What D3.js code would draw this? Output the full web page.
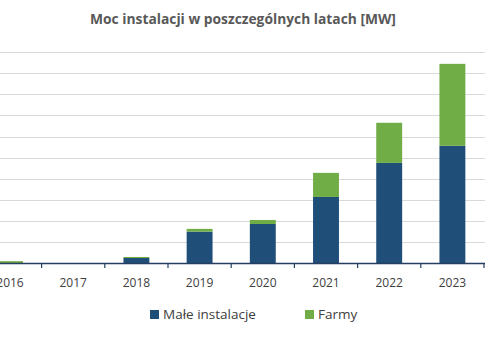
<!DOCTYPE html>
<html><head><meta charset="utf-8">
<script src="https://cdn.jsdelivr.net/npm/d3@7"></script>
<style>body{margin:0;background:#fff;}svg{display:block;}</style>
</head><body>
<script>
const years = ["2016","2017","2018","2019","2020","2021","2022","2023"];
const maleInstalacje = [0, 0, 0.25, 1.5, 1.86, 3.14, 4.75, 5.56];
const farmy = [0.1, 0, 0.05, 0.13, 0.19, 1.14, 1.9, 3.88];
const seriesNames = ["Małe instalacje", "Farmy"];
const colors = ["#1F4E79", "#70AD47"];
const yTicks = [0,1,2,3,4,5,6,7,8,9,10];

const W = 485, H = 351;
const svg = d3.select("body").append("svg").attr("width", W).attr("height", H);
svg.append("rect").attr("width", W).attr("height", H).attr("fill", "#fff");

const x = d3.scaleBand().domain(years).range([-21.6, 484]).paddingInner(0.59).paddingOuter(0.295);
const y = d3.scaleLinear().domain([0, 10]).range([263.3, 52]);

// gridlines
svg.append("g").selectAll("line").data(yTicks.slice(1)).join("line")
  .attr("x1", 0).attr("x2", W).attr("y1", d => Math.round(y(d)) + 0.5).attr("y2", d => Math.round(y(d)) + 0.5)
  .attr("stroke", "#D9D9D9").attr("stroke-width", 1);

const table = years.map((yr, i) => ({year: yr, "Małe instalacje": maleInstalacje[i], "Farmy": farmy[i]}));
const stacked = d3.stack().keys(seriesNames)(table);

svg.append("g").selectAll("g").data(stacked).join("g")
  .attr("fill", (d, i) => colors[i])
  .selectAll("rect").data(d => d).join("rect")
  .attr("x", d => x(d.data.year))
  .attr("width", x.bandwidth())
  .attr("y", d => y(d[1]))
  .attr("height", d => Math.max(0, y(d[0]) - y(d[1])));

// axis
const step = x.step();
const axisG = svg.append("g");
axisG.append("line").attr("x1", 0).attr("x2", W).attr("y1", 263.5).attr("y2", 263.5)
  .attr("stroke", "#243F60").attr("stroke-width", 1.5);
axisG.selectAll("line.tick").data(years.slice(1)).join("line").attr("class", "tick")
  .attr("x1", d => x(d) + x.bandwidth()/2 - step/2).attr("x2", d => x(d) + x.bandwidth()/2 - step/2)
  .attr("y1", 263).attr("y2", 268).attr("stroke", "#243F60").attr("stroke-width", 1.2);
axisG.append("line").attr("x1", 484).attr("x2", 484).attr("y1", 263).attr("y2", 268).attr("stroke", "#243F60").attr("stroke-width", 1.2);

svg.append("g").selectAll("text").data(years).join("text")
  .attr("x", d => x(d) + x.bandwidth()/2).attr("y", 286.5)
  .attr("text-anchor", "middle").attr("font-family", "Open Sans, sans-serif").attr("font-size", 12)
  .attr("fill", "#404040").text(d => d);

// title
svg.append("text").attr("x", 243).attr("y", 24).attr("text-anchor", "middle")
  .attr("font-family", "Open Sans, sans-serif").attr("font-weight", "bold").attr("font-size", 13.8)
  .attr("fill", "#595959").text("Moc instalacji w poszczególnych latach [MW]");

// legend
const legendX = [150, 305];
const lg = svg.append("g").selectAll("g").data(seriesNames).join("g")
  .attr("transform", (d, i) => `translate(${legendX[i]},310)`);
lg.append("rect").attr("width", 9).attr("height", 9).attr("fill", (d, i) => colors[i]);
lg.append("text").attr("x", 13).attr("y", 9).attr("font-family", "Open Sans, sans-serif").attr("font-size", 13.5)
  .attr("fill", "#404040").text(d => d);
</script>
</body></html>
